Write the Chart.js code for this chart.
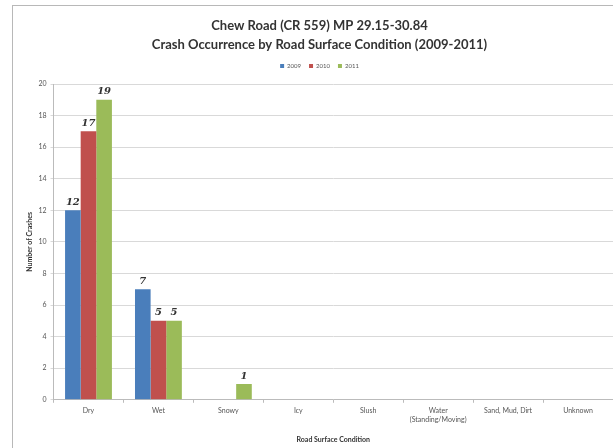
<!DOCTYPE html>
<html>
<head>
<meta charset="utf-8">
<script src="https://cdn.jsdelivr.net/npm/chart.js@4/dist/chart.umd.min.js"></script>
<style>
  html, body { margin: 0; padding: 0; background: #fff; overflow: hidden; }
  #wrap { position: relative; width: 613px; height: 448px; }
  #frame { position: absolute; left: 12px; top: 5px; width: 620px; height: 460px;
           border-left: 1px solid #b8b8b8; border-top: 1px solid #b8b8b8; }
  canvas { position: absolute; left: 0; top: 0; }
</style>
</head>
<body>
<div id="wrap">
  <div id="frame"></div>
  <canvas id="chart" width="613" height="448"></canvas>
</div>
<script>
'use strict';

// categories and values
var conditions = ['Dry', 'Wet', 'Snowy', 'Icy', 'Slush', ['Water', '(Standing/Moving)'], 'Sand, Mud, Dirt', 'Unknown'];
var crashes2009 = [12, 7, 0, 0, 0, 0, 0, 0];
var crashes2010 = [17, 5, 0, 0, 0, 0, 0, 0];
var crashes2011 = [19, 5, 1, 0, 0, 0, 0, 0];
var yTicks = [0, 2, 4, 6, 8, 10, 12, 14, 16, 18, 20];

var fontFamily = 'Lato, "Open Sans", sans-serif';

// draw the value above every non-zero bar
var barValues = {
  id: 'barValues',
  afterDatasetsDraw: function (chart) {
    var ctx = chart.ctx;
    ctx.save();
    ctx.font = 'italic bold 10px "DejaVu Serif", serif';
    ctx.fillStyle = '#333';
    ctx.textAlign = 'center';
    ctx.textBaseline = 'bottom';
    chart.data.datasets.forEach(function (dataset, i) {
      chart.getDatasetMeta(i).data.forEach(function (bar, j) {
        var v = dataset.data[j];
        if (v) {
          ctx.fillText(v, bar.x, bar.y - 3);
        }
      });
    });
    ctx.restore();
  }
};

// leave some room between the legend and the plot
var legendGap = {
  id: 'legendGap',
  beforeInit: function (chart) {
    var fit = chart.legend.fit;
    chart.legend.fit = function () {
      fit.call(this);
      this.height += 5;
    };
  }
};

var ctx = document.getElementById('chart').getContext('2d');
var chart = new Chart(ctx, {
  type: 'bar',
  data: {
    labels: conditions,
    datasets: [
      { label: '2009', data: crashes2009, backgroundColor: '#4a7ebb' },
      { label: '2010', data: crashes2010, backgroundColor: '#c0504d' },
      { label: '2011', data: crashes2011, backgroundColor: '#9bbb59' }
    ]
  },
  options: {
    responsive: false,
    animation: false,
    events: [],
    datasets: {
      bar: { categoryPercentage: 0.67, barPercentage: 1.0 }
    },
    layout: { padding: { left: 26, right: 0, top: 16, bottom: 4 } },
    plugins: {
      title: {
        display: true,
        text: ['Chew Road (CR 559) MP 29.15-30.84', 'Crash Occurrence by Road Surface Condition (2009-2011)'],
        color: '#333',
        font: { family: fontFamily, size: 13, weight: 'bold', lineHeight: 1.5 },
        padding: { top: 0, bottom: 0 }
      },
      legend: {
        display: true,
        position: 'top',
        labels: {
          boxWidth: 4,
          boxHeight: 4,
          padding: 8,
          color: '#555',
          font: { family: fontFamily, size: 6 }
        }
      },
      tooltip: { enabled: false }
    },
    scales: {
      x: {
        grid: { display: true, drawOnChartArea: false, offset: true, tickLength: 3, color: '#bbb' },
        border: { color: '#bbb' },
        ticks: { color: '#555', font: { family: fontFamily, size: 7 }, maxRotation: 0, autoSkip: false, padding: 4 },
        title: {
          display: true,
          text: 'Road Surface Condition',
          color: '#333',
          font: { family: fontFamily, size: 7, weight: 'bold' },
          padding: { top: 8, bottom: 0 }
        }
      },
      y: {
        min: 0,
        max: 20,
        afterBuildTicks: function (axis) {
          axis.ticks = yTicks.map(function (v) { return { value: v }; });
        },
        grid: { color: '#d9d9d9', tickLength: 3 },
        border: { color: '#bbb' },
        ticks: { color: '#555', font: { family: fontFamily, size: 7 }, padding: 4 },
        title: {
          display: true,
          text: 'Number of Crashes',
          color: '#333',
          font: { family: fontFamily, size: 7, weight: 'bold' },
          padding: { top: 0, bottom: 0 }
        }
      }
    }
  },
  plugins: [barValues, legendGap]
});
</script>
</body>
</html>
